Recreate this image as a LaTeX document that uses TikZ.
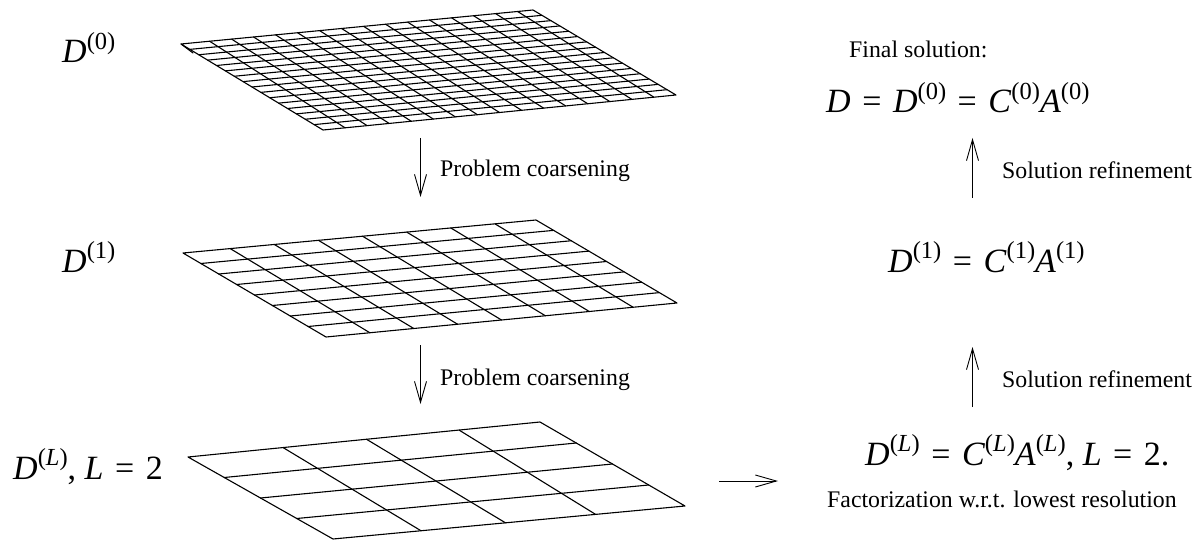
\documentclass[tikz,border=0pt]{standalone}
\usepackage{fontspec}
\setmainfont{Liberation Serif}
\usetikzlibrary{calc,arrows.meta}

\newcommand{\sps}[1]{\raisebox{0.40em}{\fontsize{24.5}{24.5}\selectfont #1}}
\newcommand{\eqs}{\hspace{0.34em}=\hspace{0.34em}}
\newcommand{\vD}{\textit{D}}
\newcommand{\vC}{\textit{C}}
\newcommand{\vA}{\textit{A}}
\newcommand{\vL}{\textit{L}}

\tikzset{
  mesh/.style={line width=1.1pt, line cap=round, line join=round},
  flow/.style={line width=0.9pt, -{Straight Barb[length=21pt,width=12pt,line width=0.9pt]}},
  formula/.style={anchor=base west, inner sep=0pt, font=\fontsize{34}{38}\selectfont},
  remark/.style={anchor=base west, inner sep=0pt, font=\fontsize{23.8}{28}\selectfont},
}

\begin{document}
\begin{tikzpicture}[x=1pt,y=-1pt]

    \useasboundingbox (0,0) rectangle (1194,540);

    % finest mesh
    \coordinate (fineTL) at (181,44);
    \coordinate (fineTR) at (533,10);
    \coordinate (fineBR) at (676,95);
    \coordinate (fineBL) at (323,130);
    \draw[mesh] (fineTL)--(fineTR)--(fineBR)--(fineBL)--cycle;
    \draw[mesh] (fineTL)--(193,53);
    \foreach \k [evaluate=\k as \s using \k/16, evaluate=\k as \r using (\k+0.3)/16] in {1,...,15} {
      \draw[mesh] ($(fineTL)!\r!(fineTR)$)--($(fineBL)!\s!(fineBR)$);
      \draw[mesh] ($(fineTL)!\s!(fineBL)$)--($(fineTR)!\s!(fineBR)$);
    }

    % middle mesh
    \coordinate (midTL) at (183,253);
    \coordinate (midTR) at (536,220);
    \coordinate (midBR) at (677,303);
    \coordinate (midBL) at (326,337);
    \draw[mesh] (midTL)--(midTR)--(midBR)--(midBL)--cycle;
    \foreach \k [evaluate=\k as \s using \k/8, evaluate=\k as \r using (\k+0.07)/8] in {1,...,7} {
      \draw[mesh] ($(midTL)!\r!(midTR)$)--($(midBL)!\s!(midBR)$);
      \draw[mesh] ($(midTL)!\s!(midBL)$)--($(midTR)!\s!(midBR)$);
    }

    % coarse mesh
    \coordinate (lowTL) at (188,457);
    \coordinate (lowTR) at (540,422);
    \coordinate (lowBR) at (685,506);
    \coordinate (lowBL) at (333,539);
    \draw[mesh] (lowTL)--(lowTR)--(lowBR)--(lowBL)--cycle;
    \foreach \r/\s in {0.27/0.25,0.507/0.49,0.77/0.746} {
      \draw[mesh] ($(lowTL)!\r!(lowTR)$)--($(lowBL)!\s!(lowBR)$);
    }
    \foreach \s in {0.25,0.5,0.75} {
      \draw[mesh] ($(lowTL)!\s!(lowBL)$)--($(lowTR)!\s!(lowBR)$);
    }

    % left column
    \node[formula] (labFine) at (62,63) {\vD\sps{(0)}};
    \node[formula] (labMid) at (62,272) {\vD\sps{(1)}};
    \node[formula] (labLow) at (13,479) {\vD\sps{(\vL)}, \vL\eqs 2};

    % right column
    \node[remark] (final) at (849,58) {Final solution:};
    \node[formula] (solZero) at (826,113) {\vD\eqs\vD\sps{(0)}\eqs\vC\sps{(0)}\vA\sps{(0)}};
    \node[formula] (solOne) at (888,272) {\vD\sps{(1)}\eqs\vC\sps{(1)}\vA\sps{(1)}};
    \node[formula] (solLow) at (865,465) {\vD\sps{(\vL)}\eqs\vC\sps{(\vL)}\vA\sps{(\vL)}, \vL\eqs 2.};
    \node[remark] (factor) at (827,507) {Factorization w.r.t. lowest resolution};

    % arrows
    \coordinate (downAs) at (420.5,138);
    \coordinate (downAe) at (420.5,197);
    \coordinate (downBs) at (420.5,345);
    \coordinate (downBe) at (420.5,404);
    \coordinate (upAs) at (972.5,198);
    \coordinate (upAe) at (972.5,138);
    \coordinate (upBs) at (972.5,407);
    \coordinate (upBe) at (972.5,347);
    \coordinate (acrossS) at (719,481);
    \coordinate (acrossE) at (778,481);
    \draw[flow] (downAs)--(downAe);
    \draw[flow] (downBs)--(downBe);
    \draw[flow] (upAs)--(upAe);
    \draw[flow] (upBs)--(upBe);
    \draw[flow] (acrossS)--(acrossE);

    \node[remark] (coarsenA) at (440,177) {Problem coarsening};
    \node[remark] (coarsenB) at (440,385) {Problem coarsening};
    \node[remark] (refineA) at (1002,179) {Solution refinement};
    \node[remark] (refineB) at (1002,387) {Solution refinement};

\end{tikzpicture}
\end{document}
